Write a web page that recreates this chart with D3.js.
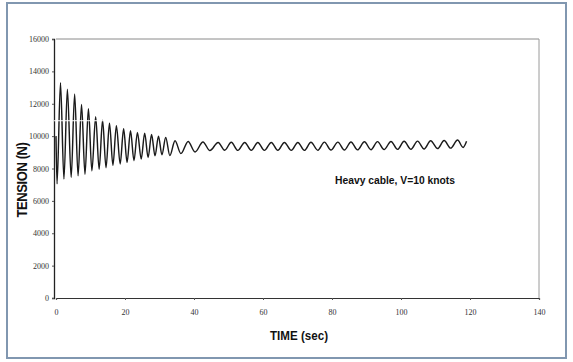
<!DOCTYPE html>
<html>
<head>
<meta charset="utf-8">
<script src="https://cdn.jsdelivr.net/npm/d3@7"></script>
<style>
  body { margin: 0; background: #fff; }
  svg { display: block; }
</style>
</head>
<body>
<div id="chart"></div>
<script>
// extrema of the tension trace (time in s, tension in N)
const extremaTime = [
  0.0, 0.3, 1.3, 2.3, 3.3, 4.4, 5.4, 6.4, 7.4, 8.4, 9.4, 10.4, 11.5, 12.5, 13.5, 14.5,
  15.5, 16.5, 17.5, 18.6, 19.6, 20.6, 21.6, 22.6, 23.6, 24.7, 25.7, 26.7, 27.7, 28.7,
  29.7, 30.7, 31.8, 33.0, 34.5, 36.2, 38.3, 40.3, 42.6, 44.6,
  47.0, 48.9, 50.8, 52.7, 54.7, 56.6, 58.5, 60.4, 62.4, 64.3, 66.2, 68.2, 70.1, 72.0,
  73.9, 75.9, 77.8, 79.7, 81.7, 83.6, 85.5, 87.4, 89.4, 91.3, 93.2, 95.1, 97.1, 99.0,
  100.9, 102.9, 104.8, 106.7, 108.6, 110.6, 112.5, 114.4, 116.4, 118.0, 119.0
]
const extremaTension = [
  10000, 7050, 13300, 7350, 12900, 7450, 12600, 7550, 11950, 7650, 11700, 7850, 11200, 7950, 10980, 8050,
  10800, 8200, 10650, 8280, 10450, 8380, 10330, 8480, 10230, 8580, 10180, 8680, 10100, 8780,
  10000, 8850, 9920, 8800, 9720, 8920, 9670, 9020, 9640, 9110,
  9610, 9130, 9620, 9120, 9610, 9120, 9610, 9120, 9610, 9120, 9610, 9120, 9610, 9120,
  9620, 9130, 9630, 9140, 9630, 9140, 9640, 9150, 9650, 9160, 9660, 9170, 9670, 9180,
  9680, 9190, 9690, 9210, 9710, 9230, 9730, 9260, 9760, 9300, 9680
]
const xTicks = [0, 20, 40, 60, 80, 100, 120, 140]
const yTicks = [0, 2000, 4000, 6000, 8000, 10000, 12000, 14000, 16000]

const width = 573, height = 362
const plotLeft = 56, plotRight = 539, plotTop = 39, plotBottom = 298

const svg = d3.select('#chart').append('svg')
  .attr('width', width)
  .attr('height', height)

// outer frame
svg.append('rect')
  .attr('x', 7).attr('y', 3)
  .attr('width', 559).attr('height', 355)
  .attr('fill', '#fff')
  .attr('stroke', '#8197b0')
  .attr('stroke-width', 2)

const xScale = d3.scaleLinear().domain([0, 140]).range([plotLeft, plotRight])
const yScale = d3.scaleLinear().domain([0, 16000]).range([plotBottom, plotTop])

// plot box (top / right are faint in the scan)
svg.append('line')
  .attr('x1', plotLeft).attr('x2', plotRight).attr('y1', plotTop).attr('y2', plotTop)
  .attr('stroke', '#8a8a8a').attr('stroke-width', 1)
svg.append('line')
  .attr('x1', plotRight).attr('x2', plotRight).attr('y1', plotTop).attr('y2', plotBottom)
  .attr('stroke', '#9a9a9a').attr('stroke-width', 1)

const xAxis = svg.append('g')
  .attr('transform', `translate(0,${plotBottom})`)
  .call(d3.axisBottom(xScale).tickValues(xTicks).tickSize(2).tickPadding(9).tickFormat(d3.format('d')))
xAxis.select('.domain').attr('stroke', '#333').attr('stroke-width', 1.2)
xAxis.selectAll('line').attr('stroke', '#555')
xAxis.selectAll('text')
  .attr('font-family', 'Liberation Serif, DejaVu Serif, serif')
  .attr('font-size', 8)
  .attr('fill', '#333')

const yAxis = svg.append('g')
  .attr('transform', `translate(${plotLeft - 2},0)`)
  .call(d3.axisLeft(yScale).tickValues(yTicks).tickSize(2).tickPadding(3).tickFormat(d3.format('d')))
yAxis.select('.domain').attr('stroke', '#222').attr('stroke-width', 1.3)
yAxis.selectAll('line').attr('stroke', '#555')
yAxis.selectAll('text')
  .attr('font-family', 'Liberation Serif, DejaVu Serif, serif')
  .attr('font-size', 8)
  .attr('fill', '#333')

// the tension trace
const line = d3.line()
  .x((d, i) => xScale(extremaTime[i]))
  .y(d => yScale(d))
  .curve(d3.curveMonotoneX)

svg.append('path')
  .datum(extremaTension)
  .attr('d', line)
  .attr('fill', 'none')
  .attr('stroke', '#1a1a1a')
  .attr('stroke-width', 1.45)

// white scan streak across the first oscillations
svg.append('line')
  .attr('x1', plotLeft - 2).attr('x2', xScale(15))
  .attr('y1', yScale(10950)).attr('y2', yScale(10950))
  .attr('stroke', '#fff').attr('stroke-width', 1)

const boldNarrow = 'Liberation Sans Narrow, Arial Narrow, Liberation Sans, Arial, sans-serif'

svg.append('text')
  .attr('transform', 'translate(27,180) rotate(-90)')
  .attr('text-anchor', 'middle')
  .attr('font-family', boldNarrow)
  .attr('font-weight', 'bold')
  .attr('font-size', 15)
  .attr('letter-spacing', -0.5)
  .attr('textLength', 75)
  .attr('lengthAdjust', 'spacingAndGlyphs')
  .attr('fill', '#111')
  .text('TENSION (N)')

svg.append('text')
  .attr('x', 299).attr('y', 340)
  .attr('text-anchor', 'middle')
  .attr('font-family', boldNarrow)
  .attr('font-weight', 'bold')
  .attr('font-size', 13)
  .attr('textLength', 58)
  .attr('lengthAdjust', 'spacingAndGlyphs')
  .attr('fill', '#111')
  .text('TIME (sec)')

svg.append('text')
  .attr('x', 335).attr('y', 184)
  .attr('font-family', boldNarrow)
  .attr('font-weight', 'bold')
  .attr('font-size', 10.5)
  .attr('textLength', 120)
  .attr('lengthAdjust', 'spacingAndGlyphs')
  .attr('fill', '#111')
  .text('Heavy cable, V=10 knots')
</script>
</body>
</html>
